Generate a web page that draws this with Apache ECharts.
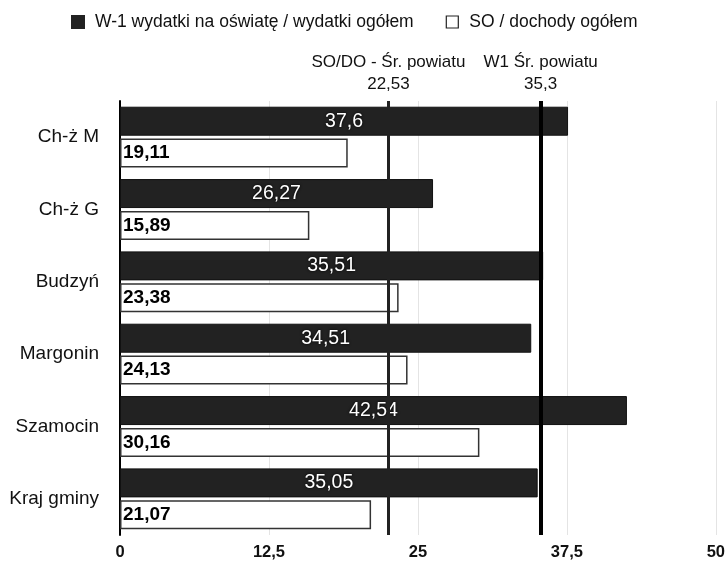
<!DOCTYPE html>
<html><head><meta charset="utf-8">
<script src="https://cdn.jsdelivr.net/npm/echarts@6/dist/echarts.min.js"></script>
<style>html,body{margin:0;padding:0;background:#fff}#c{width:728px;height:563px}</style>
</head><body><div id="c"></div>
<script>
const categories = ['Ch-ż M', 'Ch-ż G', 'Budzyń', 'Margonin', 'Szamocin', 'Kraj gminy'];
const w1Values = [37.6, 26.27, 35.51, 34.51, 42.54, 35.05];
const soValues = [19.11, 15.89, 23.38, 24.13, 30.16, 21.07];
const seriesNames = ['W-1 wydatki na oświatę / wydatki ogółem', 'SO / dochody ogółem'];
const avgSO = 22.53, avgW1 = 35.3;
const avgLabels = ['SO/DO - Śr. powiatu', 'W1 Śr. powiatu'];
const xTicks = [0, 12.5, 25, 37.5, 50];

const fmt = v => String(v).replace('.', ',');
const chart = echarts.init(document.getElementById('c'));
const FONT = 'Liberation Sans, Arial, sans-serif';
chart.setOption({
  animation: false,
  textStyle: { fontFamily: FONT },
  legend: {
    top: 8, left: 66, itemGap: 32, itemWidth: 12, itemHeight: 12,
    textStyle: { fontSize: 17.5, color: '#111', fontFamily: FONT, padding: [0, 0, 0, 6] },
    data: [
      { name: seriesNames[0], icon: 'rect', itemStyle: { color: '#222', borderColor: '#222' } },
      { name: seriesNames[1], icon: 'rect', itemStyle: { color: '#fff', borderColor: '#222', borderWidth: 1.2 } }
    ]
  },
  grid: { left: 120, right: 8, top: 101, bottom: 28 },
  xAxis: {
    type: 'value', min: 0, max: 50, interval: 12.5,
    axisLine: { show: false }, axisTick: { show: false },
    splitLine: { show: true, lineStyle: { color: '#e4e4e4', width: 1 } },
    axisLabel: { fontSize: 16.5, fontWeight: 'bold', color: '#111', margin: 9, formatter: v => fmt(v) }
  },
  yAxis: {
    type: 'category', data: categories, inverse: true,
    axisLine: { show: true, lineStyle: { color: '#000', width: 2 } },
    axisTick: { show: false },
    axisLabel: { fontSize: 19, color: '#111', margin: 21, padding: [3, 0, 0, 0] }
  },
  series: [
    {
      name: seriesNames[0], type: 'bar', data: w1Values,
      barWidth: 29, barGap: '10%',
      itemStyle: { color: '#222', borderColor: '#111', borderWidth: 1 },
      label: {
        show: true, position: 'inside', color: '#fff', fontSize: 19.5,
        textShadowColor: '#000', textShadowBlur: 3,
        formatter: p => fmt(p.value)
      },
      z: 2
    },
    {
      name: seriesNames[1], type: 'bar', data: soValues,
      barWidth: 29,
      itemStyle: { color: '#fff', borderColor: '#333', borderWidth: 1.5 },
      label: {
        show: true, position: 'insideLeft', offset: [-2, 0], color: '#000', fontSize: 19, fontWeight: 'bold',
        formatter: p => fmt(p.value)
      },
      markLine: {
        symbol: 'none', silent: true,
        label: { show: true, position: 'start', fontSize: 17, color: '#111', lineHeight: 22, distance: 6 },
        data: [
          { xAxis: avgSO, lineStyle: { color: '#222', width: 3, type: 'solid' },
            label: { formatter: avgLabels[0] + '\n' + fmt(avgSO) } },
          { xAxis: avgW1, lineStyle: { color: '#000', width: 4, type: 'solid' },
            label: { formatter: avgLabels[1] + '\n' + fmt(avgW1) } }
        ]
      },
      z: 3
    }
  ]
});
</script></body></html>
